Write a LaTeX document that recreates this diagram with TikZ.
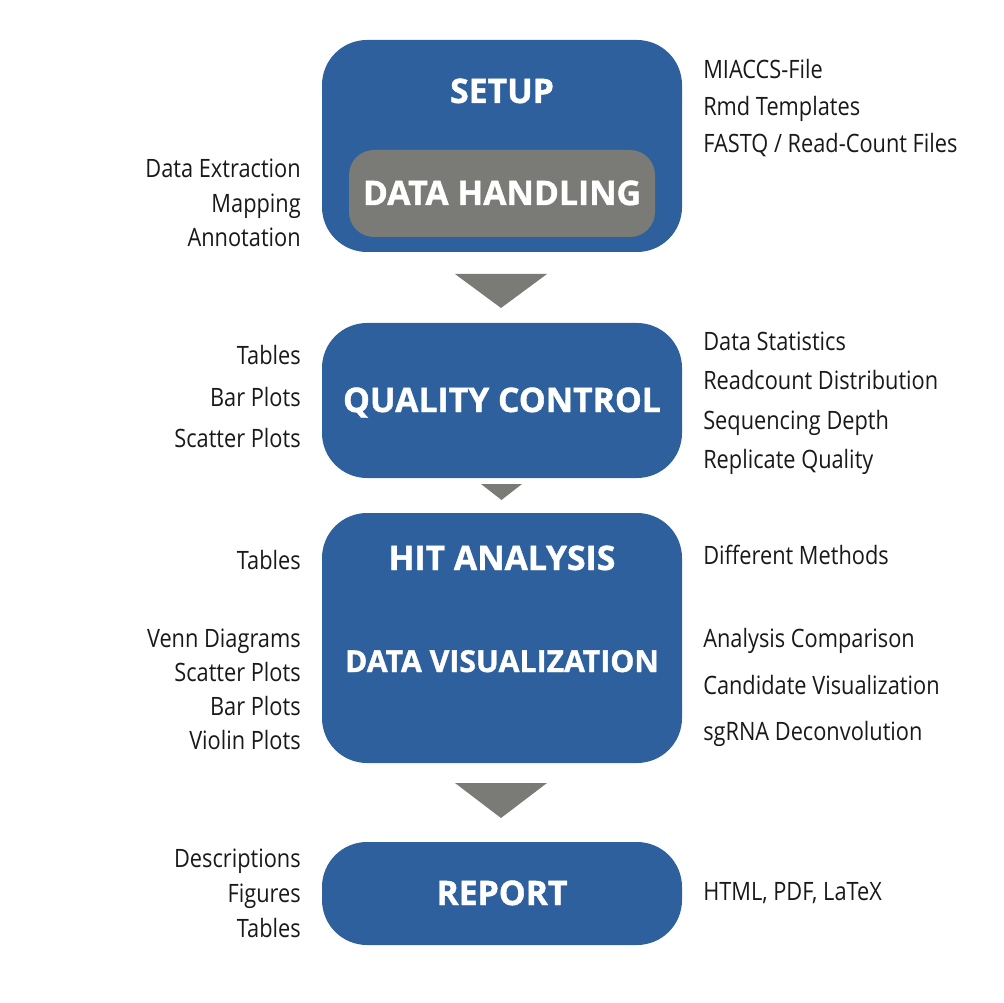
\documentclass[tikz,border=0pt]{standalone}
\usepackage{fontspec}
\setmainfont{Open Sans}
\newfontfamily\sidefont[FakeStretch=0.86]{Open Sans}
\newfontfamily\titlefont[BoldFeatures={FakeBold=1.2}]{Open Sans}
\usepackage{tikz}
\usetikzlibrary{positioning}

\definecolor{stepblue}{RGB}{46,96,157}
\definecolor{stepgray}{RGB}{122,123,118}

\tikzset{
  stepbox/.style={fill=stepblue,draw=none,rounded corners=45*0.025cm,minimum width=360*0.025cm,inner sep=0pt},
  innerbox/.style={fill=stepgray,draw=none,rounded corners=25*0.025cm,minimum width=306*0.025cm,minimum height=87*0.025cm,inner sep=0pt},
  title/.style={text=white,font=\titlefont\fontsize{24}{28}\selectfont\bfseries,anchor=base,inner sep=0pt},
  lside/.style={font=\sidefont\fontsize{18}{22}\selectfont,anchor=base east,inner sep=0pt,text=black!90},
  rside/.style={font=\sidefont\fontsize{18}{22}\selectfont,anchor=base west,inner sep=0pt,text=black!90},
  tri/.style={fill=stepgray,draw=none}
}

\begin{document}
\begin{tikzpicture}[x=0.025cm,y=-0.025cm]
\useasboundingbox (0,0) rectangle (1003,1003);
% boxes
\node[stepbox,minimum height=212*0.025cm] (setup) at (502,146) {};
\node[innerbox] (handling) at (502,193.5) {};
\node[stepbox,minimum height=155*0.025cm] (qc) at (502,400.5) {};
\node[stepbox,minimum height=250*0.025cm] (hit) at (502,638) {};
\node[stepbox,minimum height=103*0.025cm] (report) at (502,893.5) {};
% titles
\node[title] (tsetup) at (502,103) {SETUP};
\node[title] (thandling) at (502,205) {DATA HANDLING};
\node[title] (tqc) at (502,412) {QUALITY CONTROL};
\node[title] (thit) at (502,570) {HIT ANALYSIS};
\node[title,font=\titlefont\fontsize{21.5}{26}\selectfont\bfseries] (tvis) at (502,672) {DATA VISUALIZATION};
\node[title] (treport) at (502,905) {REPORT};
% arrows
\fill[tri] (455,274) -- (547,274) -- (501,308) -- cycle;
\fill[tri] (481,484) -- (522,484) -- (501.5,500) -- cycle;
\fill[tri] (455,783) -- (547,783) -- (501,818) -- cycle;
% left texts
\foreach \y/\t in {178/Data Extraction,213/Mapping,247/Annotation,
  364/Tables,406/Bar Plots,447/Scatter Plots,
  569/Tables,
  647/Venn Diagrams,681/Scatter Plots,715/Bar Plots,749/Violin Plots,
  867/Descriptions,902/Figures,937/Tables}
  \node[lside] at (301,\y) {\t};
% right texts
\foreach \y/\t in {79/MIACCS-File,116/Rmd Templates,153/{FASTQ / Read-Count Files},
  351/Data Statistics,390/Readcount Distribution,429/Sequencing Depth,468/Replicate Quality,
  564/Different Methods,
  647/Analysis Comparison,694/Candidate Visualization,740/sgRNA Deconvolution,
  900/{HTML, PDF, LaTeX}}
  \node[rside] at (703,\y) {\t};
\end{tikzpicture}
\end{document}
